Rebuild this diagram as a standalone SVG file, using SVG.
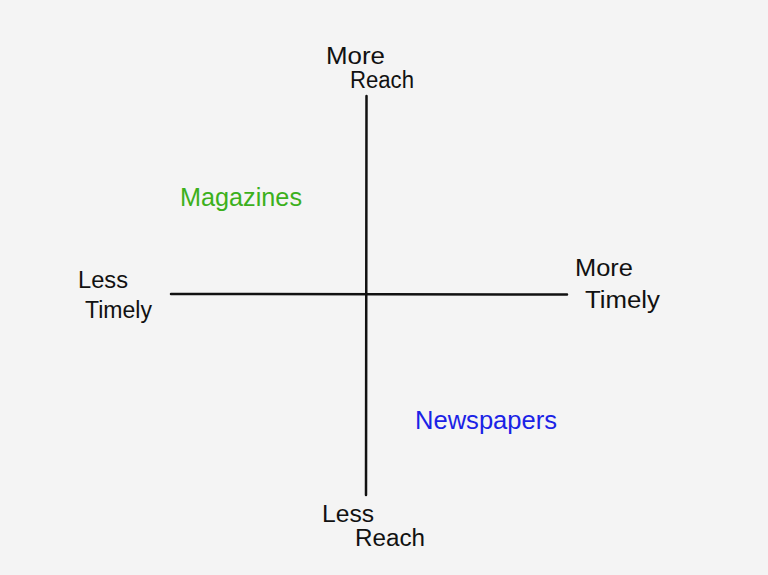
<svg xmlns="http://www.w3.org/2000/svg" width="768" height="575" viewBox="0 0 768 575">
<style>
.t{font-family:"Liberation Sans","DejaVu Sans",sans-serif;font-size:23px;fill:#111}
.big{font-size:26px}
.ax{stroke:#111;stroke-width:2.5;stroke-linecap:round;fill:none}
</style>
<rect width="768" height="575" fill="#f4f4f4"/>
<g id="connectors">
<path class="ax" d="M366.5 96 L366 495"/>
<path class="ax" d="M171 294 L567 294.5"/>
</g>
<g id="more-reach"><text class="t" x="326" y="64" textLength="59" lengthAdjust="spacingAndGlyphs">More</text><text class="t" x="350" y="88" textLength="64" lengthAdjust="spacingAndGlyphs">Reach</text></g>
<g id="less-reach"><text class="t" x="322" y="522" textLength="52" lengthAdjust="spacingAndGlyphs">Less</text><text class="t" x="355" y="546" textLength="70" lengthAdjust="spacingAndGlyphs">Reach</text></g>
<g id="less-timely"><text class="t" x="78" y="288" textLength="50" lengthAdjust="spacingAndGlyphs">Less</text><text class="t" x="85" y="318" textLength="67" lengthAdjust="spacingAndGlyphs">Timely</text></g>
<g id="more-timely"><text class="t" x="575" y="276" textLength="58" lengthAdjust="spacingAndGlyphs">More</text><text class="t" x="585" y="308" textLength="75" lengthAdjust="spacingAndGlyphs">Timely</text></g>
<g id="magazines"><text class="t big" x="180" y="206" textLength="122" lengthAdjust="spacingAndGlyphs" style="fill:#3cb01c">Magazines</text></g>
<g id="newspapers"><text class="t big" x="415" y="429" textLength="142" lengthAdjust="spacingAndGlyphs" style="fill:#1a22e6">Newspapers</text></g>
</svg>
